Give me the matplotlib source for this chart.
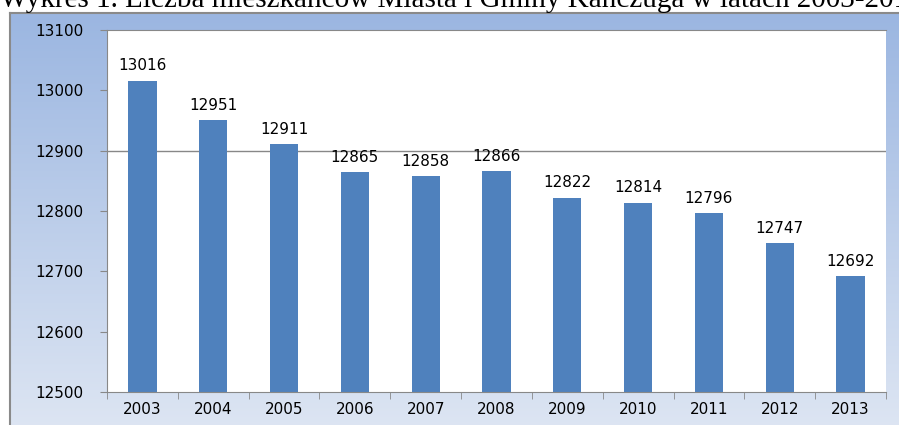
import numpy as np
import matplotlib.pyplot as plt
from matplotlib.colors import LinearSegmentedColormap

lata = ["2003", "2004", "2005", "2006", "2007", "2008", "2009", "2010", "2011", "2012", "2013"]
mieszkancy = [13016, 12951, 12911, 12865, 12858, 12866, 12822, 12814, 12796, 12747, 12692]
y_ticks = [12500, 12600, 12700, 12800, 12900, 13000, 13100]
tytul = "Wykres 1. Liczba mieszkańców Miasta i Gminy Kańczuga w latach 2003-2013"

W, H = 899, 425
fig = plt.figure(figsize=(W / 100, H / 100), dpi=100)
fig.patch.set_facecolor("white")

# tlo wykresu (gradient jak w Excelu), dol i prawa krawedz poza obrazkiem
bg = fig.add_axes([10 / W, -10 / H, 1, (H - 13 + 10) / H])
cmap = LinearSegmentedColormap.from_list("tlo", ["#9bb6e1", "#dee6f3"])
grad = np.linspace(0, 1, 256).reshape(-1, 1)
bg.imshow(grad, aspect="auto", cmap=cmap, extent=[0, 1, 0, 1], origin="upper")
bg.set_xticks([])
bg.set_yticks([])
for s in bg.spines.values():
    s.set_color("#8a8a8a")
    s.set_linewidth(1.5)

# tytul przyciety u gory jak w oryginale
fig.text(0 / W, 1 - 7 / H, tytul, family="Liberation Serif", fontsize=21,
         va="baseline", ha="left", color="black")

ax = fig.add_axes([107 / W, (H - 392) / H, (886 - 107) / W, (392 - 30) / H])
ax.set_facecolor("white")
x = np.arange(len(lata))
ax.bar(x, mieszkancy, width=0.4, color="#4f81bd", zorder=2)
for xi, v in zip(x, mieszkancy):
    ax.text(xi, v + 12, str(v), ha="center", va="bottom", fontsize=11, color="black")

ax.set_xlim(-0.5, len(lata) - 0.5)
ax.set_ylim(12500, 13100)
ax.set_yticks(y_ticks)
ax.set_yticklabels([str(t) for t in y_ticks], fontsize=11)
ax.set_xticks(x)
ax.set_xticklabels(lata, fontsize=11)
ax.set_xticks(np.arange(-0.5, len(lata)), minor=True)
ax.tick_params(axis="x", which="major", length=0, pad=7)
ax.tick_params(axis="x", which="minor", length=5, color="#888888")
ax.tick_params(axis="y", length=5, color="#888888", pad=12)
ax.axhline(12900, color="#888888", linewidth=1, zorder=1)

for side in ["left", "bottom", "top"]:
    ax.spines[side].set_color("#888888")
ax.spines["right"].set_visible(False)

fig.savefig("out.png", dpi=100)
